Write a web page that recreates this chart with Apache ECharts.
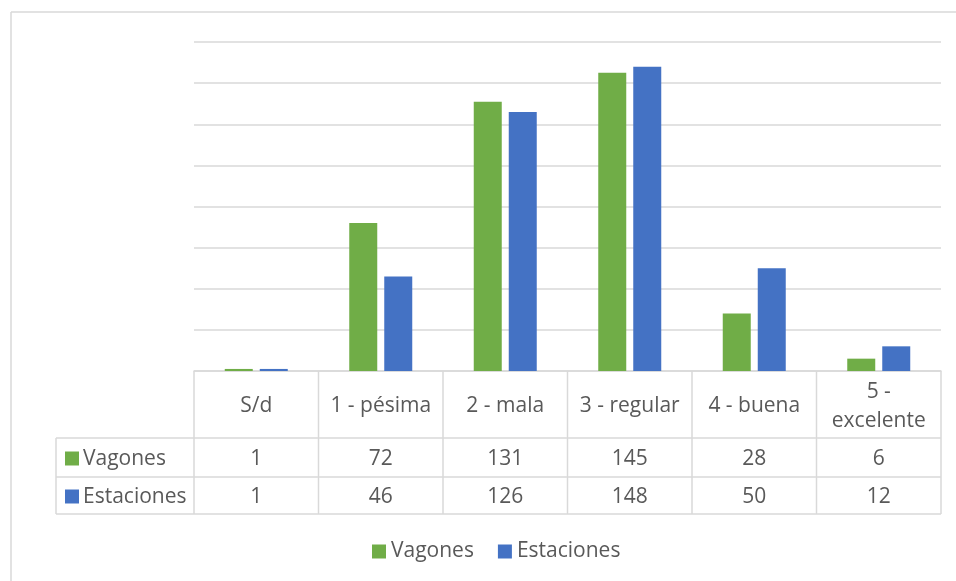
<!DOCTYPE html>
<html>
<head>
<meta charset="utf-8" />
<title>Vagones y Estaciones</title>
<script src="https://cdn.jsdelivr.net/npm/echarts@6/dist/echarts.min.js"></script>
<style>
html, body { margin: 0; padding: 0; background: #fff; }
#main { width: 956px; height: 581px; }
</style>
</head>
<body>
<div id="main"></div>
<script>
// datos
var categorias = ['S/d', '1 - pésima', '2 - mala', '3 - regular', '4 - buena', '5 - excelente'];
var etiquetasTabla = ['S/d', '1 - pésima', '2 - mala', '3 - regular', '4 - buena', '5 -\nexcelente'];
var vagones = [1, 72, 131, 145, 28, 6];
var estaciones = [1, 46, 126, 148, 50, 12];
var nombres = ['Vagones', 'Estaciones'];
var colores = ['#70AD47', '#4472C4'];

var chart = echarts.init(document.getElementById('main'));
var fuente = '"Open Sans", Lato, sans-serif';
var tam = 21;
var gris = '#d9d9d9';

// geometria de la tabla
var izq = 194, der = 941, base = 371;
var filaCab = 438, fila1 = 477, fila2 = 514, claveIzq = 56;
var anchoCol = (der - izq) / categorias.length;

var graficos = [];
function linea(x1, y1, x2, y2) {
    graficos.push({ type: 'line', shape: { x1: x1, y1: y1, x2: x2, y2: y2 },
        style: { stroke: gris, lineWidth: 1.5 }, silent: true });
}
function texto(x, y, t, align) {
    graficos.push({ type: 'text', x: x, y: y + 2,
        style: { text: t, fill: '#595959', font: tam + 'px ' + fuente,
            align: align || 'center', verticalAlign: 'middle', lineHeight: 29 } });
}
// borde exterior
linea(11, 12, 956, 12);
linea(11, 12, 11, 581);
// lineas de la tabla
linea(claveIzq, filaCab, der, filaCab);
linea(claveIzq, fila1, der, fila1);
linea(claveIzq, fila2, der, fila2);
linea(claveIzq, filaCab, claveIzq, fila2);
for (var i = 0; i <= categorias.length; i++) {
    linea(izq + i * anchoCol, base, izq + i * anchoCol, fila2);
}
var series = [vagones, estaciones];
var filas = [[filaCab, fila1], [fila1, fila2]];
for (var c = 0; c < categorias.length; c++) {
    var cx = izq + (c + 0.5) * anchoCol;
    texto(cx, (base + filaCab) / 2, etiquetasTabla[c]);
    for (var s = 0; s < series.length; s++) {
        texto(cx, (filas[s][0] + filas[s][1]) / 2, String(series[s][c]));
    }
}
for (var s = 0; s < nombres.length; s++) {
    var cy = (filas[s][0] + filas[s][1]) / 2;
    graficos.push({ type: 'rect', shape: { x: 65, y: cy - 6, width: 14, height: 14 },
        style: { fill: colores[s] } });
    texto(83, cy, nombres[s], 'left');
}

var option = {
    animation: false,
    grid: { left: izq, right: 956 - der, top: 42, bottom: 581 - base },
    xAxis: {
        type: 'category',
        data: categorias,
        axisLine: { show: true, lineStyle: { color: gris, width: 1.5 } },
        axisTick: { show: false },
        axisLabel: { show: false }
    },
    yAxis: {
        type: 'value',
        min: 0, max: 160, interval: 20,
        axisLabel: { show: false },
        axisLine: { show: false },
        axisTick: { show: false },
        splitLine: { lineStyle: { color: gris, width: 1.5 } }
    },
    legend: {
        bottom: 14,
        left: 367,
        itemWidth: 14, itemHeight: 14, itemGap: 24,
        icon: 'rect',
        textStyle: { color: '#595959', fontSize: tam, fontFamily: fuente },
        data: nombres
    },
    series: [
        { name: nombres[0], type: 'bar', data: vagones, barWidth: 28, barGap: '25%',
          itemStyle: { color: colores[0] } },
        { name: nombres[1], type: 'bar', data: estaciones, barWidth: 28, barGap: '25%',
          itemStyle: { color: colores[1] } }
    ],
    graphic: graficos
};
chart.setOption(option);
</script>
</body>
</html>
